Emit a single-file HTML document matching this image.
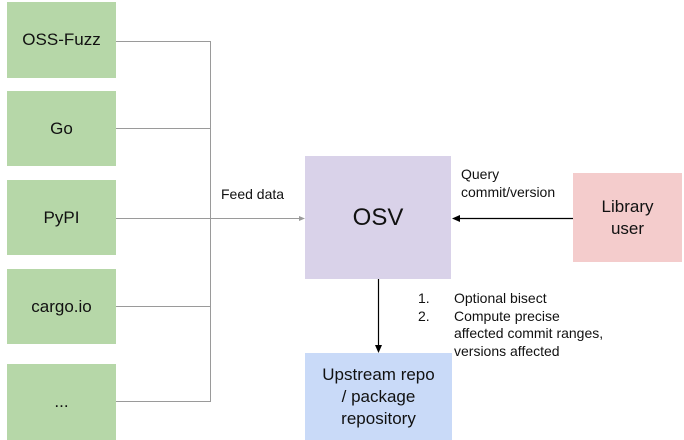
<!DOCTYPE html>
<html><head><style>
body{margin:0;width:684px;height:440px;background:#fff;position:relative;overflow:hidden;font-family:"Liberation Sans",sans-serif;color:#111}
.b{position:absolute;display:flex;align-items:center;justify-content:center;text-align:center}
.g{background:#b6d7a8;left:7px;width:109px;font-size:17px}
.t{position:absolute;font-size:14px;line-height:17.5px}
</style></head><body>
<div class="b g" style="top:2px;height:76px">OSS-Fuzz</div>
<div class="b g" style="top:91px;height:75px">Go</div>
<div class="b g" style="top:180px;height:75px">PyPI</div>
<div class="b g" style="top:269px;height:75px">cargo.io</div>
<div class="b g" style="top:364px;height:76px">...</div>
<div class="b" style="left:305px;top:156px;width:146px;height:123px;background:#d9d2e9;font-size:24px">OSV</div>
<div class="b" style="left:573px;top:173px;width:109px;height:89px;background:#f4cccc;font-size:17px;line-height:22px">Library<br>user</div>
<div class="b" style="left:305px;top:353px;width:147px;height:87px;background:#c9daf8;font-size:17px;line-height:22px">Upstream repo<br>/ package<br>repository</div>
<svg width="684" height="440" style="position:absolute;left:0;top:0">
<g stroke="#9a9a9a" stroke-width="1" fill="none">
<path d="M116 41.5H210.5V401.5H116M116 128.5H210.5M116 218.5H302M116 306.5H210.5"/>
</g>
<path d="M305 218.5l-6-2.5v5z" fill="#9a9a9a"/>
<path d="M573 218.5H458" stroke="#000" stroke-width="1.2"/>
<path d="M452 218.5l8-3.5v7z" fill="#000"/>
<path d="M378.5 279V345" stroke="#000" stroke-width="1.2"/>
<path d="M378.5 353l-3.5-8h7z" fill="#000"/>
</svg>
<div class="t" style="left:221px;top:186px">Feed data</div>
<div class="t" style="left:461px;top:166px">Query<br>commit/version</div>
<div class="t" style="left:418px;top:290px">1.<br>2.</div>
<div class="t" style="left:454px;top:290px">Optional bisect<br>Compute precise<br>affected commit ranges,<br>versions affected</div>
</body></html>
